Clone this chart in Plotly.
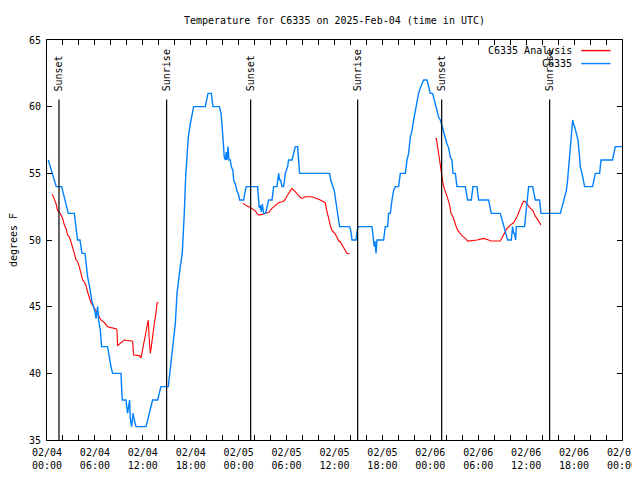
import pandas as pd
import plotly.graph_objects as go

START = pd.Timestamp("2025-02-04 00:00")

# Observed C6335 temperature (hours since 2025-02-04 00:00 UTC, degrees F)
obs_hours = [0.16, 0.66, 1.16, 1.83, 2.17, 2.67, 3.42, 3.63, 3.83, 4.13, 4.38, 4.76, 5.08, 5.33, 5.63,
             6.01, 6.14, 6.34, 6.46, 6.67, 6.84, 7.59, 7.71, 8.01, 8.21, 9.27, 9.34, 9.43, 9.89, 10.09,
             10.34, 10.43, 10.59, 10.77, 10.93, 11.14, 12.40, 12.60, 12.81, 13.02, 13.22, 13.85, 14.06,
             14.27, 15.19, 15.44, 15.65, 15.85, 16.07, 16.28, 16.48, 16.69, 16.94, 17.10, 17.19, 17.36,
             17.53, 17.69, 17.94, 18.16, 18.36, 19.82, 20.04, 20.16, 20.57, 20.79, 21.58, 21.79, 21.91,
             22.04, 22.20, 22.36, 22.45, 22.54, 22.66, 22.79, 22.95, 23.08, 23.29, 23.37, 23.58, 23.79,
             23.99, 24.12, 24.62, 24.83, 24.96, 26.37, 26.50, 26.58, 26.71, 26.83, 26.96, 27.12, 27.37,
             27.55, 27.75, 28.17, 28.38, 28.80, 29.00, 29.13, 29.25, 29.43, 29.63, 29.84, 30.13, 30.25,
             30.68, 30.88, 31.09, 31.38, 31.50, 31.63, 35.39, 35.56, 35.81, 35.98, 36.14, 36.31, 36.48,
             36.64, 37.89, 38.07, 38.19, 38.69, 38.82, 38.94, 40.70, 40.82, 40.98, 41.07, 41.20, 41.32,
             42.15, 42.36, 42.65, 42.78, 42.99, 43.20, 43.40, 43.61, 44.03, 44.24, 44.87, 45.08, 45.28,
             45.49, 45.70, 45.91, 46.12, 46.33, 46.53, 46.74, 46.96, 47.16, 47.58, 47.78, 48.00, 48.28,
             48.41, 48.62, 48.84, 49.04, 49.25, 49.46, 49.66, 49.87, 50.09, 50.29, 50.50, 50.71, 50.84,
             51.13, 51.34, 52.38, 52.50, 52.67, 53.13, 53.34, 53.84, 54.04, 55.30, 55.42, 55.63, 56.76,
             56.97, 57.18, 57.39, 57.68, 58.14, 58.30, 58.43, 58.55, 58.68, 58.77, 59.80, 59.98, 60.11,
             60.31, 60.81, 60.93, 61.14, 61.68, 61.86, 64.28, 64.49, 64.69, 65.03, 65.19, 65.31, 65.53,
             65.65, 65.82, 65.94, 66.07, 66.28, 66.49, 66.65, 66.78, 66.99, 67.19, 67.32, 68.32, 68.45,
             68.66, 69.20, 69.37, 70.82, 70.95, 71.16, 72.00]
obs_temp = [56, 55, 54, 54, 53.1, 52, 52, 51, 50, 50, 49, 49, 47.25, 46.5, 45.4,
            44.6, 44.1, 45.0, 44.0, 43.25, 42, 42, 41.5, 40.5, 40, 40, 39, 38, 38, 37,
            38, 36.6, 36, 37, 36.5, 36, 36, 36.5, 37, 37.5, 38, 38, 38.5,
            39, 39, 40.25, 41.75, 42.75, 43.75, 46.0, 47.25, 48.0, 49.0, 50.5, 52.0, 54.7,
            56.2, 57.7, 58.7, 59.5, 60, 60, 60.6, 61, 61, 60, 60, 59.5, 58.7,
            57.5, 56.2, 56.0, 56.6, 56.0, 57.0, 56.0, 56, 55.5, 55.2, 54.5, 54.2, 53.7,
            53.4, 53, 53, 53.7, 54, 54, 53.3, 52.4, 52.6, 52.1, 52.7, 52, 52,
            52.6, 53, 53, 54, 54, 55, 54.5, 54.5, 54, 54, 55, 55.5, 56,
            56, 56.5, 57, 57, 56, 55, 55, 54.4, 54, 53.7, 53, 52.4, 51.8,
            51, 51, 50.6, 50, 50, 50.6, 51, 51, 50.25, 49.5, 49.9, 49, 50,
            50, 51, 51, 52, 52, 53, 53.7, 54, 54, 55, 55, 56, 56.5,
            57.7, 58.2, 59, 59.7, 60.5, 61, 61.4, 61.7, 62, 62, 61.4, 61, 61,
            60.6, 60.2, 59.7, 59.2, 59, 58.5, 58, 57.5, 57.2, 56.9, 56.2, 56, 55,
            55, 54, 54, 53.5, 53, 53, 54, 54, 53, 53, 52.5, 52, 52,
            51.5, 51, 50.5, 50, 50, 51, 50.5, 50.5, 50, 51, 51, 52, 53,
            54, 54, 53.5, 53, 53, 52, 52, 52.5, 53, 53.7, 54.5, 55.5, 57.2,
            58, 59, 58.7, 58.5, 58, 57.5, 56.5, 55.5, 55, 54.5, 54, 54, 54.5,
            55, 55, 56, 56, 56.5, 57, 57]

# C6335 Analysis, three separate runs
ana1_hours = [0.66, 0.91, 1.12, 1.33, 1.54, 1.75, 1.96, 2.17, 2.38, 2.58, 2.79, 3.00, 3.21, 3.42, 3.63,
              3.84, 4.04, 4.25, 4.46, 4.67, 4.88, 5.09, 5.30, 5.51, 5.71, 5.92, 6.13, 6.34, 6.55, 6.76,
              7.18, 7.59, 8.01, 8.64, 8.76, 8.84, 9.26, 9.68, 10.31, 10.72, 10.85, 11.56, 11.77, 11.97,
              12.18, 12.39, 12.60, 12.68, 12.81, 12.94, 13.06, 13.23, 13.44, 13.64, 13.77, 13.94]
ana1_temp = [53.44, 53.1, 52.75, 52.2, 52.1, 51.87, 51.62, 51.12, 50.87, 50.37, 50.24, 49.87, 49.49, 49.0,
             48.5, 48.37, 48.0, 47.5, 47.0, 46.87, 46.6, 46.1, 45.6, 45.3, 45.13, 44.88, 44.63, 44.38,
             44.13, 44.0, 43.8, 43.5, 43.43, 43.35, 43.25, 42.06, 42.3, 42.5, 42.45, 42.4, 41.38, 41.33,
             41.16, 41.8, 42.63, 43.13, 43.75, 44.0, 42.5, 41.5, 42.0, 43.0, 43.75, 44.5, 45.25, 45.33]
ana2_hours = [24.54, 25.04, 25.46, 26.08, 26.29, 26.54, 27.13, 27.79, 28.17, 28.59, 29.00, 29.42, 29.71,
              30.13, 30.67, 31.09, 31.63, 31.93, 32.34, 33.18, 33.81, 34.22, 34.64, 34.85, 34.97, 35.14,
              35.27, 35.47, 35.68, 36.10, 36.31, 36.52, 36.73, 36.94, 37.14, 37.35, 37.56, 37.90]
ana2_temp = [52.75, 52.54, 52.44, 52.19, 52.0, 51.87, 51.95, 52.07, 52.37, 52.62, 52.79, 52.87, 52.94,
             53.37, 53.87, 53.62, 53.24, 53.12, 53.24, 53.24, 53.12, 53.0, 52.87, 52.79, 52.37, 51.87,
             51.49, 51.12, 50.74, 50.44, 50.2, 49.94, 49.85, 49.62, 49.37, 49.2, 49.0, 48.95]
ana3_hours = [48.62, 48.75, 48.91, 49.04, 49.16, 49.25, 49.33, 49.42, 49.58, 49.75, 50.00, 50.17, 50.42,
              50.58, 50.83, 51.00, 51.25, 51.42, 51.67, 51.96, 52.38, 52.67, 53.84, 54.67, 55.30, 55.59,
              56.76, 57.18, 57.60, 58.01, 58.43, 58.85, 59.06, 59.27, 59.48, 59.68, 59.89, 60.10, 60.31,
              60.52, 60.81, 60.94, 61.14, 61.35, 61.56, 61.77, 61.85]
ana3_temp = [57.61, 57.61, 56.99, 56.61, 55.99, 55.61, 55.24, 54.74, 54.24, 53.87, 53.49, 53.12, 52.62,
             52.0, 51.74, 51.37, 50.99, 50.74, 50.5, 50.32, 50.12, 49.92, 50.0, 50.12, 50.0, 49.92,
             49.92, 50.37, 50.87, 51.12, 51.29, 51.74, 52.0, 52.37, 52.69, 52.92, 52.87, 52.69, 52.49,
             52.37, 52.24, 52.04, 51.79, 51.62, 51.37, 51.17, 51.12]

# Sun events (hours since start)
sun_hours = [1.50, 14.98, 25.50, 38.90, 49.42, 62.94]
sun_labels = ["Sunset", "Sunrise", "Sunset", "Sunrise", "Sunset", "Sunrise"]

# Axis ticks
xtick_hours = [0, 6, 12, 18, 24, 30, 36, 42, 48, 54, 60, 66, 72]
xtick_text = ["02/04<br>00:00", "02/04<br>06:00", "02/04<br>12:00", "02/04<br>18:00",
              "02/05<br>00:00", "02/05<br>06:00", "02/05<br>12:00", "02/05<br>18:00",
              "02/06<br>00:00", "02/06<br>06:00", "02/06<br>12:00", "02/06<br>18:00",
              "02/07<br>00:00"]
ytick_vals = [35, 40, 45, 50, 55, 60, 65]

title_text = "Temperature for C6335 on 2025-Feb-04 (time in UTC)"
RED = "#ff0000"
BLUE = "#0080ff"
FONT = "DejaVu Sans Mono"

# page body has an 8px margin, so the figure is 8px smaller than the window
W, H = 632, 472


def to_time(hours):
    return [None if h is None else START + pd.Timedelta(hours=h) for h in hours]


ana_hours = ana1_hours + [None] + ana2_hours + [None] + ana3_hours
ana_temp = ana1_temp + [None] + ana2_temp + [None] + ana3_temp

fig = go.Figure()
fig.add_trace(go.Scatter(x=to_time(ana_hours), y=ana_temp, mode="lines",
                         name="C6335 Analysis", line=dict(color=RED, width=1.1),
                         connectgaps=False))
fig.add_trace(go.Scatter(x=to_time(obs_hours), y=obs_temp, mode="lines",
                         name="C6335", line=dict(color=BLUE, width=1.4)))

line_top = 0.851
for t, lab in zip(to_time(sun_hours), sun_labels):
    fig.add_shape(type="line", xref="x", yref="paper", x0=t, x1=t, y0=0, y1=line_top,
                  line=dict(color="black", width=1.2))
    fig.add_annotation(x=t, xref="x", y=0.866, yref="paper", text=lab, textangle=-90,
                       showarrow=False, xanchor="center", yanchor="bottom",
                       font=dict(family=FONT, size=10, color="black"))

# Manual gnuplot-style legend (text left, sample right)
leg_rows = [("C6335 Analysis", RED, 0.9735), ("C6335", BLUE, 0.941)]
for name, col, yy in leg_rows:
    fig.add_annotation(x=0.917, xref="paper", y=yy, yref="paper", text=name, showarrow=False,
                       xanchor="right", yanchor="middle", font=dict(family=FONT, size=10, color="black"))
    fig.add_shape(type="line", xref="paper", yref="paper", x0=0.929, x1=0.980, y0=yy, y1=yy,
                  line=dict(color=col, width=1.4))

fig.update_layout(
    width=W, height=H,
    margin=dict(l=39, r=18, t=32, b=40, autoexpand=False),
    paper_bgcolor="white", plot_bgcolor="white",
    showlegend=False,
    font=dict(family=FONT, size=10, color="black"),
    title=dict(text=title_text, x=0.5, xref="paper", xanchor="center",
               y=1 - 12 / H, yanchor="middle", font=dict(family=FONT, size=10, color="black")),
)
fig.update_xaxes(
    type="date", automargin=False,
    range=[START, START + pd.Timedelta(hours=72)],
    tickmode="array", tickvals=to_time(xtick_hours), ticktext=xtick_text,
    ticks="inside", ticklen=5, tickcolor="black", tickwidth=1, ticklabelstandoff=3,
    showline=True, linecolor="black", linewidth=1, mirror="ticks",
    showgrid=False, zeroline=False,
    minor=dict(tickmode="linear", tick0=START, dtick=2 * 3600 * 1000,
               ticks="inside", ticklen=5, tickcolor="black", showgrid=False),
    tickfont=dict(family=FONT, size=10, color="black"),
)
fig.update_yaxes(
    automargin=False,
    range=[35, 65], tickmode="array", tickvals=ytick_vals,
    ticks="inside", ticklen=5, tickcolor="black", tickwidth=1, ticklabelstandoff=3,
    showline=True, linecolor="black", linewidth=1, mirror="ticks",
    showgrid=False, zeroline=False,
    tickfont=dict(family=FONT, size=10, color="black"),
    title=dict(text="degrees F", standoff=17, font=dict(family=FONT, size=10, color="black")),
)

fig.write_html("out.html")
